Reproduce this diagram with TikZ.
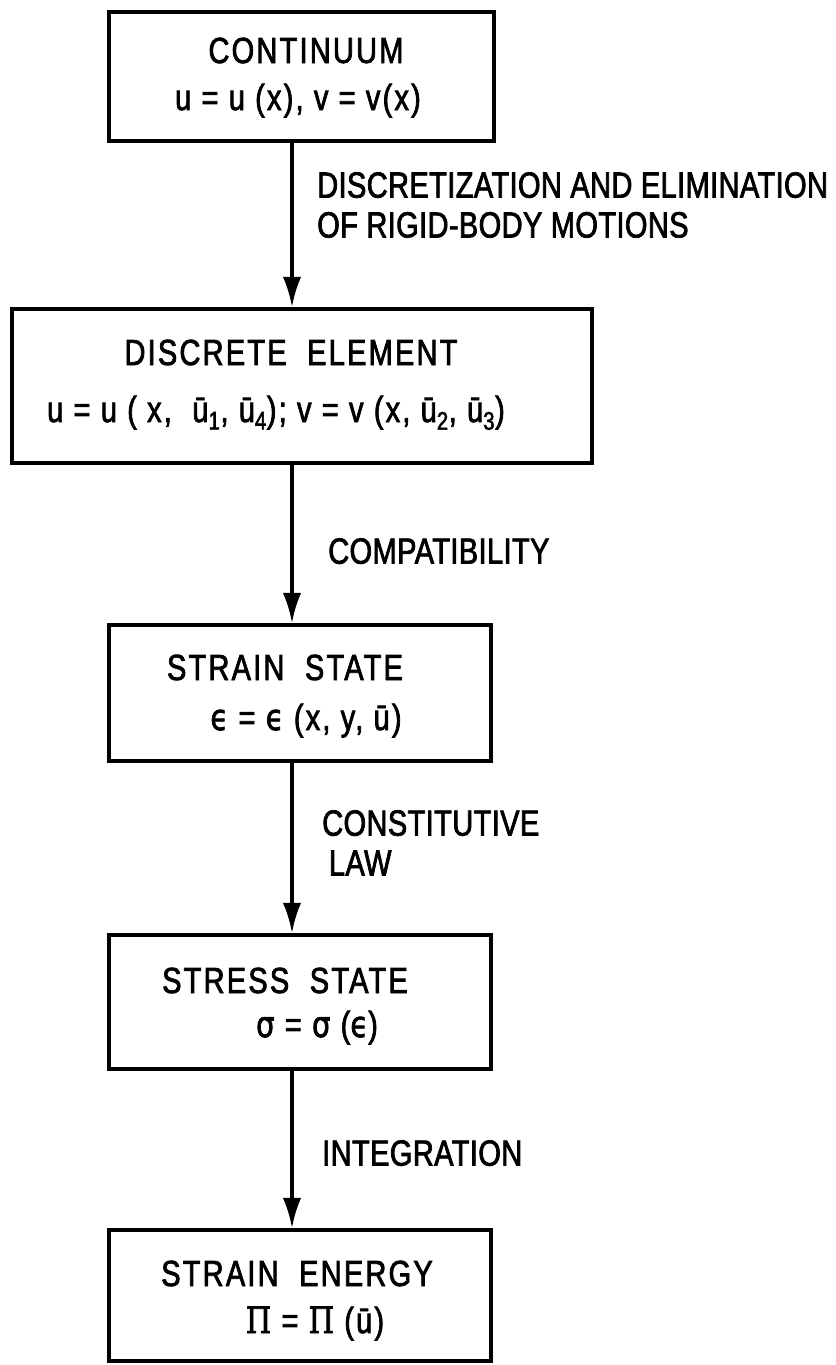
\documentclass[tikz,border=0pt]{standalone}
\usepackage{fontspec}
\setmainfont[FakeStretch=0.8,LetterSpace=1,FakeBold=2]{Liberation Sans}
\newfontfamily\boxfont[FakeStretch=0.8,LetterSpace=6,FakeBold=2]{Liberation Sans}
\newfontfamily\grk[FakeStretch=0.8,FakeBold=2]{DejaVu Sans}
\newfontfamily\grkserif[FakeStretch=0.8,FakeBold=2]{DejaVu Serif}
\usetikzlibrary{arrows.meta}

\tikzset{
  stagebox/.style={draw,line width=3.5pt,inner sep=0pt},
  stagetext/.style={font=\boxfont\fontsize{31}{38}\selectfont,inner sep=0pt,anchor=base},
  steplabel/.style={font=\fontsize{31}{34}\selectfont,inner sep=0pt,anchor=north west,align=left},
  flowarrow/.style={line width=2.8pt,-{Latex[length=0.9cm,width=0.55cm]}}
}

\begin{document}
\begin{tikzpicture}[x=0.03cm,y=-0.03cm]
\useasboundingbox (0,0) rectangle (836,1365);
\coordinate (spine) at (292,0);

% the five stages
\node[stagebox,minimum width=11.55cm,minimum height=3.87cm] (continuum) at (301.5,76.5) {};
\node[stagebox,minimum width=17.4cm,minimum height=4.62cm] (discrete) at (302,386) {};
\node[stagebox,minimum width=11.46cm,minimum height=4.08cm] (strain) at (300,693) {};
\node[stagebox,minimum width=11.46cm,minimum height=4.02cm] (stress) at (300,1002) {};
\node[stagebox,minimum width=11.46cm,minimum height=3.93cm] (energy) at (300,1295.5) {};

% texts in the boxes
\node[stagetext] (continuumtitle) at (306,63) {CONTINUUM};
\node[stagetext] (continuumeq) at (298,110) {u = u (x), v = v(x)};
\node[stagetext] (discretetitle) at (291,365) {DISCRETE~~ELEMENT};
\node[stagetext] (discreteeq) at (276,422) {u = u (~x,~~ū\textsubscript{1}, ū\textsubscript{4}); v = v~(x, ū\textsubscript{2}, ū\textsubscript{3})};
\node[stagetext] (straintitle) at (285,680) {STRAIN~~STATE};
\node[stagetext] (straineq) at (306,730) {{\grk ϵ} = {\grk ϵ} (x, y, ū)};
\node[stagetext] (stresstitle) at (285,993) {STRESS~~STATE};
\node[stagetext] (stresseq) at (317,1037) {{\grk σ} = {\grk σ} ({\grk ϵ})};
\node[stagetext] (energytitle) at (297,1286) {STRAIN~~ENERGY};
\node[stagetext] (energyeq) at (315,1333) {{\grkserif Π} = {\grkserif Π} (ū)};

% arrows and their labels
\draw[flowarrow] (continuum.south -| spine) -- (discrete.north -| spine);
\draw[flowarrow] (discrete.south -| spine) -- (strain.north -| spine);
\draw[flowarrow] (strain.south -| spine) -- (stress.north -| spine);
\draw[flowarrow] (stress.south -| spine) -- (energy.north -| spine);

\node[steplabel] (discretize) at (317,172) {DISCRETIZATION AND ELIMINATION\\OF RIGID-BODY MOTIONS};
\node[steplabel] (compat) at (328,538) {COMPATIBILITY};
\node[steplabel] (constit) at (322,810) {CONSTITUTIVE\\\hspace*{0.2cm}LAW};
\node[steplabel] (integ) at (322,1140) {INTEGRATION};
\end{tikzpicture}
\end{document}
